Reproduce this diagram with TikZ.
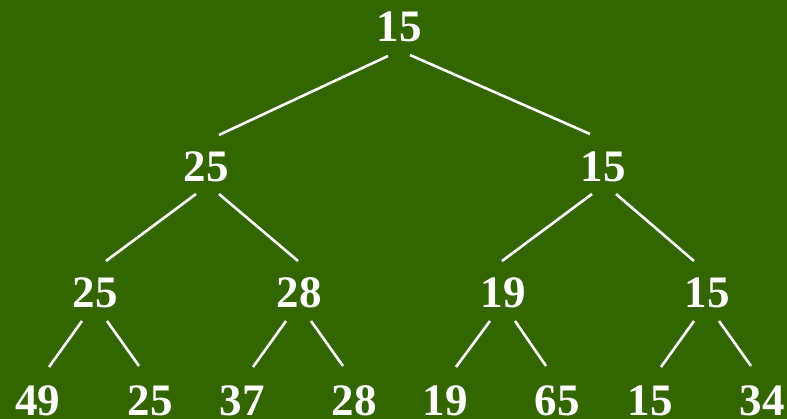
\documentclass[tikz,border=0pt]{standalone}
\usepackage{fontspec}
\setmainfont{Liberation Serif}
\usetikzlibrary{calc}
\definecolor{bggreen}{HTML}{336600}
\begin{document}
\begin{tikzpicture}[x=1pt,y=-1pt,
  num/.style={anchor=base,inner sep=0pt,text=white,font=\fontsize{45}{54}\selectfont\bfseries},
  edge/.style={draw=white,line width=2.6pt}]
\fill[bggreen] (0,0) rectangle (787,419);
\useasboundingbox (0,0) rectangle (787,419);
% root
\node[num] (r) at (399,42) {15};
% level 2
\node[num] (a) at (206,182) {25};
\node[num] (b) at (603,182) {15};
% level 3
\node[num] (c) at (95,308) {25};
\node[num] (d) at (299,308) {28};
\node[num] (e) at (503,308) {19};
\node[num] (f) at (707,308) {15};
% level 4
\node[num] (g1) at (38,415) {49};
\node[num] (g2) at (150,415) {25};
\node[num] (g3) at (242,415) {37};
\node[num] (g4) at (354,415) {28};
\node[num] (g5) at (445,415) {19};
\node[num] (g6) at (557,415) {65};
\node[num] (g7) at (650,415) {15};
\node[num] (g8) at (762,415) {34};
% edges
\draw[edge] ($(r.base)+(-11,14)$) -- ($(a.base)+(13,-47)$);
\draw[edge] ($(r.base)+(11,13)$) -- ($(b.base)+(-13,-48)$);
\draw[edge] ($(a.base)+(-10,12)$) -- ($(c.base)+(11,-47)$);
\draw[edge] ($(a.base)+(13,12)$) -- ($(d.base)+(-1,-47)$);
\draw[edge] ($(b.base)+(-11,12)$) -- ($(e.base)+(-1,-47)$);
\draw[edge] ($(b.base)+(13,12)$) -- ($(f.base)+(-13,-47)$);
\foreach \p/\l/\rr in {c/g1/g2, d/g3/g4, e/g5/g6, f/g7/g8}{
  \draw[edge] ($(\p.base)+(-13,13)$) -- ($(\l.base)+(11,-48)$);
  \draw[edge] ($(\p.base)+(12,13)$) -- ($(\rr.base)+(-11,-49)$);
}
\end{tikzpicture}
\end{document}
